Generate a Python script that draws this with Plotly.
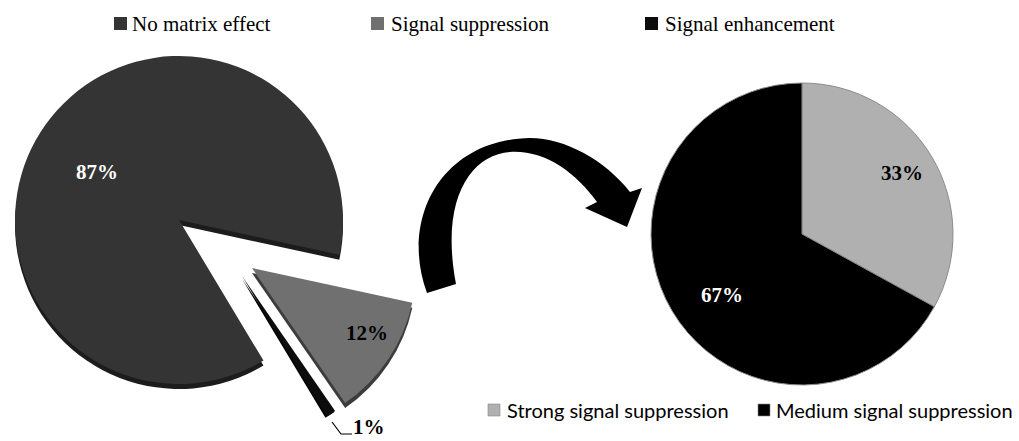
import plotly.graph_objects as go

W, H = 1019, 441

# ---- data ----
overall_labels = ["No matrix effect", "Signal suppression", "Signal enhancement"]
overall_values = [87, 12, 1]
overall_colors = ["#343434", "#707070", "#0c0c0c"]
overall_side_colors = ["#1c1c1c", "#3c3c3c", "#000000"]

suppr_labels = ["Strong signal suppression", "Medium signal suppression"]
suppr_values = [33, 67]
suppr_colors = ["#b0b0b0", "#000000"]

CLEAR = "rgba(0,0,0,0)"


def px(x, y):
    """Pixel position -> paper coordinates."""
    return x / W, 1 - y / H


def domain(cx, cy, r):
    return dict(x=[max(0, (cx - r) / W), min(1, (cx + r) / W)],
                y=[max(0, 1 - (cy + r) / H), min(1, 1 - (cy - r) / H)])


fig = go.Figure()

# Exploded left pie: each slice is its own trace with a shifted centre,
# plus a darker copy a few pixels lower to give the disc some thickness.
R_LEFT = 164
centres = [(179, 220), (252, 268), (242, 276)]
DEPTH = 5


def slice_trace(idx, cx, cy, colors, show_hover=True):
    cols = [colors[i] if i == idx else CLEAR for i in range(len(overall_values))]
    return go.Pie(
        labels=overall_labels, values=overall_values, sort=False,
        direction="clockwise", rotation=149,
        marker=dict(colors=cols, line=dict(width=0)),
        textinfo="none", showlegend=False,
        hoverinfo="label+percent" if show_hover else "skip",
        domain=domain(cx, cy, R_LEFT),
    )


for idx, (cx, cy) in enumerate(centres):
    fig.add_trace(slice_trace(idx, cx, cy + DEPTH, overall_side_colors, False))
    fig.add_trace(slice_trace(idx, cx, cy, overall_colors))

# Right pie: breakdown of the suppression share
fig.add_trace(go.Pie(
    labels=suppr_labels, values=suppr_values, sort=False,
    direction="clockwise", rotation=0,
    marker=dict(colors=suppr_colors, line=dict(width=1, color="#8c8c8c")),
    textinfo="none", showlegend=False, hoverinfo="label+percent",
    domain=domain(802, 234, 151),
))

annotations = []
shapes = []


def label(x, y, text, color, **font):
    ax, ay = px(x, y)
    annotations.append(dict(x=ax, y=ay, xref="paper", yref="paper", showarrow=False,
                            xanchor="center", yanchor="middle", text=text,
                            font=dict(color=color, **font)))


# percentage labels
serif_b = dict(family="Liberation Serif", size=21)
pct_pos = [((97, 172), "white"), ((367, 333), "black"), ((369, 427), "black")]
for v, ((x, y), c) in zip(overall_values, pct_pos):
    label(x, y, f"<b>{v}%</b>", c, **serif_b)
for v, (x, y), c in zip(suppr_values, [(902, 173), (722, 295)], ["black", "white"]):
    label(x, y, f"<b>{v}%</b>", c, **serif_b)


def P(x, y):
    a, b = px(x, y)
    return f"{a:.5f},{b:.5f}"


# leader line for the smallest slice
shapes.append(dict(type="path", xref="paper", yref="paper",
                   path=f"M {P(332,422)} L {P(341,434)} L {P(352,434)}",
                   line=dict(color="black", width=1.2)))

# curved arrow joining the two pies
arrow = (f"M {P(427,293)} C {P(400,220)} {P(440,140)} {P(530,138)} "
         f"C {P(565,138)} {P(605,160)} {P(630,192)} "
         f"L {P(642,188)} L {P(627,227)} L {P(585,208)} L {P(597,202)} "
         f"C {P(575,172)} {P(545,150)} {P(510,152)} "
         f"C {P(470,155)} {P(440,200)} {P(456,284)} Z")
shapes.append(dict(type="path", xref="paper", yref="paper", path=arrow,
                   fillcolor="black", line=dict(width=0)))

# top legend (serif)
top_items = [(114, 130), (371, 389), (645, 663)]
for (sx, tx), lab, col in zip(top_items, overall_labels, overall_colors):
    x0, y0 = px(sx, 30)
    x1, y1 = px(sx + 13, 17)
    shapes.append(dict(type="rect", xref="paper", yref="paper", x0=x0, y0=y0, x1=x1, y1=y1,
                       fillcolor=col, line=dict(width=0)))
    ax, ay = px(tx, 24)
    annotations.append(dict(x=ax, y=ay, xref="paper", yref="paper", showarrow=False,
                            xanchor="left", yanchor="middle", text=lab,
                            font=dict(family="Liberation Serif", size=21, color="black")))

# bottom legend (sans)
bot_items = [(488, 505), (758, 774)]
for (sx, tx), lab, col in zip(bot_items, suppr_labels, suppr_colors):
    x0, y0 = px(sx, 416)
    x1, y1 = px(sx + 12, 404)
    shapes.append(dict(type="rect", xref="paper", yref="paper", x0=x0, y0=y0, x1=x1, y1=y1,
                       fillcolor=col, line=dict(width=0.6, color="#888888")))
    ax, ay = px(tx, 410)
    annotations.append(dict(x=ax, y=ay, xref="paper", yref="paper", showarrow=False,
                            xanchor="left", yanchor="middle", text=lab,
                            font=dict(family="Lato", size=20, color="black")))

fig.update_layout(
    width=W, height=H,
    margin=dict(l=0, r=0, t=0, b=0),
    paper_bgcolor="white", plot_bgcolor="white",
    annotations=annotations, shapes=shapes,
    showlegend=False,
)

fig.write_html("out.html")
